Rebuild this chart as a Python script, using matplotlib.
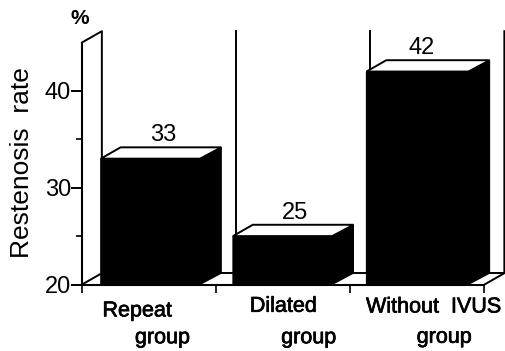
import matplotlib
matplotlib.use("Agg")
import matplotlib.pyplot as plt
import matplotlib.patheffects as pe
from matplotlib.patches import Polygon

plt.rcParams['font.family'] = ['Liberation Sans', 'DejaVu Sans']

categories = ["Repeat", "Dilated", "Without  IVUS"]
subcategory = ["group", "group", "group"]
values = [33, 25, 42]
value_labels = ["33", "25", "42"]
y_major = [20, 30, 40]
y_minor = [25, 35]
y_base, y_top = 20, 45

W, H = 506, 351
fig = plt.figure(figsize=(W / 100, H / 100), dpi=100, facecolor='white')
ax = fig.add_axes([82 / W, (H - 284.5) / H, (484.5 - 82) / W, (284.5 - 42.5) / H])
ax.set_xlim(0, 3)
ax.set_ylim(y_base, y_top)
ax.patch.set_visible(False)
for s in ax.spines.values():
    s.set_visible(False)
ax.spines['left'].set_visible(True)
ax.spines['left'].set_linewidth(1.5)
ax.spines['bottom'].set_visible(True)
ax.spines['bottom'].set_linewidth(1.5)

DX, DY = 0.148, 1.17   # oblique depth, data units
LW = 1.4
line = dict(color='black', lw=LW, clip_on=False, solid_capstyle='projecting')
thick = [pe.withStroke(linewidth=0.5, foreground='black')]

# walls
ax.plot([0, DX, DX], [y_top, y_top + DY, y_base + DY], **line)
ax.plot([0, DX], [y_base, y_base + DY], **line)
ax.plot([DX, 3 + DX], [y_base + DY, y_base + DY], **line)
ax.plot([3, 3 + DX, 3 + DX], [y_base, y_base + DY, y_top + DY], **line)
for i in (1, 2):
    ax.plot([i + DX, i + DX], [y_base + DY, y_top + DY], **line)

# bars
offs = [0.14, 0.125, 0.12]
width = 0.74
label_x = [0.605, 1.585, 2.535]
for i, v in enumerate(values):
    x0 = i + offs[i]
    x1 = x0 + width + (0.02 if i == 2 else 0)
    ax.add_patch(Polygon([(x0, y_base), (x1, y_base), (x1 + DX + 0.01, y_base + DY),
                          (x1 + DX + 0.01, v + DY), (x1, v), (x0, v)],
                         closed=True, fc='black', ec='black', lw=0.8, clip_on=False, zorder=3))
    ax.add_patch(Polygon([(x0, v), (x0 + DX, v + DY), (x1 + DX + 0.01, v + DY), (x1, v)],
                         closed=True, fc='white', ec='black', lw=LW, clip_on=False, zorder=4))
    ax.text(label_x[i], v + DY + 0.1, value_labels[i], ha='center', va='bottom',
            fontsize=17, color='black', zorder=5)

# axes ticks
ax.set_yticks(y_major)
ax.set_yticklabels([str(t) for t in y_major], fontsize=17)
ax.set_yticks(y_minor, minor=True)
ax.tick_params(axis='y', which='major', length=8, width=1.4, pad=0)
ax.tick_params(axis='y', which='minor', length=4.3, width=1.2)
ax.set_xticks([0, 1, 2, 3])
ax.set_xticklabels([])
ax.tick_params(axis='x', length=6, width=1.2)

# category labels
cat_x = [0.41, 1.50, 2.62]
cat_y = [-0.109, -0.09, -0.093]
sub_x = [0.60, 1.69, 2.70]
sub_y = [-0.22, -0.22, -0.218]
tr = ax.get_xaxis_transform()
for i in range(3):
    ax.text(cat_x[i], cat_y[i], categories[i], transform=tr, ha='center', va='center',
            fontsize=15.5, clip_on=False, path_effects=thick)
    ax.text(sub_x[i], sub_y[i], subcategory[i], transform=tr, ha='center', va='center',
            fontsize=15.5, clip_on=False, path_effects=thick)

fig.text(22 / W, 1 - 163 / H, "Restenosis  rate", rotation=90, ha='center', va='center', fontsize=19)
fig.text(80 / W, 1 - 18 / H, "%", ha='center', va='center', fontsize=15, fontweight='bold')

fig.savefig("out.png", dpi=100, facecolor='white')
